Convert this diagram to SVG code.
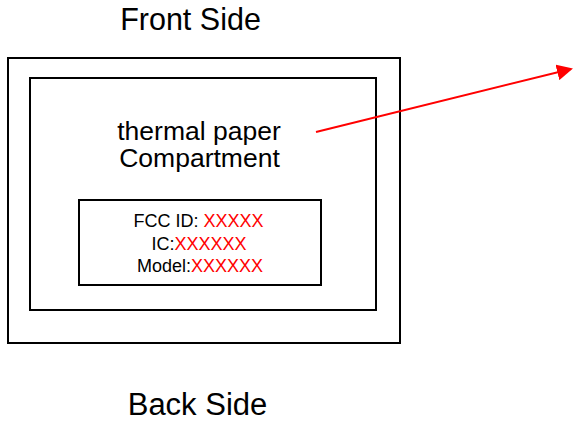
<svg xmlns="http://www.w3.org/2000/svg" width="573" height="427" viewBox="0 0 573 427">
<style>
.box{fill:none;stroke:#000;stroke-width:2}
.t{font-family:"Liberation Sans",Arial,sans-serif;fill:#000;text-anchor:middle}
.red{fill:#ff0000}
</style>
<defs>
<marker id="ah" markerWidth="8" markerHeight="8" refX="7" refY="4" orient="auto" markerUnits="strokeWidth">
<path d="M0,0 L8,4 L0,8 Z" fill="#ff0000"/>
</marker>
</defs>
<rect width="573" height="427" fill="#fff"/>
<g id="front-label"><text class="t" x="190.5" y="30" font-size="30.5">Front Side</text></g>
<g id="outer"><rect class="box" x="8" y="58" width="392" height="285"/></g>
<g id="compartment">
<rect class="box" x="30" y="78" width="346" height="232"/>
<text class="t" x="199" y="140" font-size="26.5">thermal paper</text>
<text class="t" x="199.5" y="167" font-size="26.5">Compartment</text>
</g>
<g id="label">
<rect class="box" x="79" y="200" width="242" height="85"/>
<text class="t" x="198.5" y="227" font-size="18">FCC ID: <tspan class="red">XXXXX</tspan></text>
<text class="t" x="199" y="249.5" font-size="18">IC:<tspan class="red">XXXXXX</tspan></text>
<text class="t" x="200" y="272" font-size="18">Model:<tspan class="red">XXXXXX</tspan></text>
</g>
<g id="back-label"><text class="t" x="197.5" y="415" font-size="31">Back Side</text></g>
<g id="connectors">
<line x1="316" y1="132" x2="571" y2="69" stroke="#ff0000" stroke-width="2" marker-end="url(#ah)"/>
</g>
</svg>
